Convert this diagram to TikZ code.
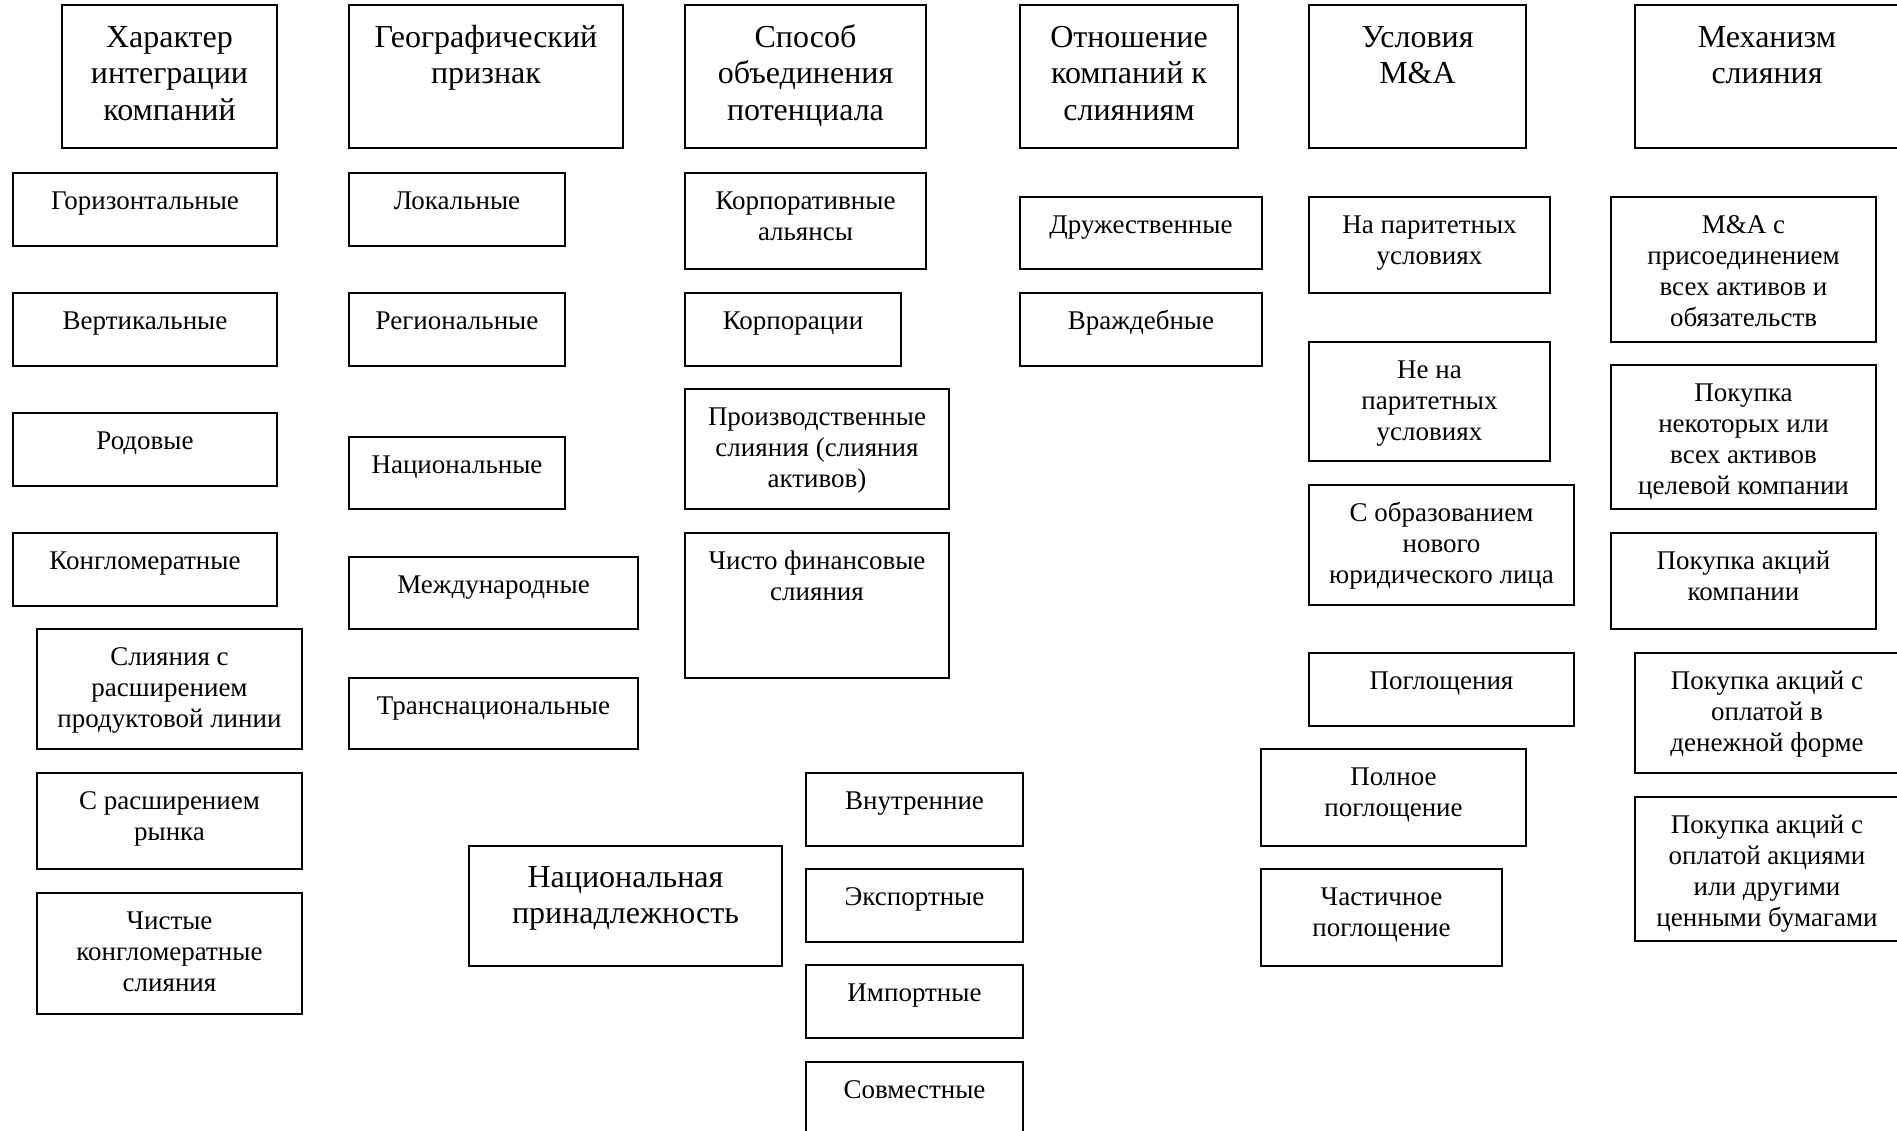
\documentclass[tikz,border=0pt]{standalone}
\usepackage{fontspec}
\setmainfont{Liberation Serif}
\newcommand{\ufst}{\rule{0pt}{30pt}}
\newcommand{\ubox}[7]{%
  \node[ubx, minimum width={(#4-#2)*1pt}, minimum height={(#5-#3)*1pt}] (#1) at ({(#2+#4)/2},{(#3+#5)/2}) {};
  \node[#6] (#1t) at (#1.north) {\ufst #7};
}
\tikzset{
  ubx/.style={draw=black, line width=1.8pt, inner sep=0pt, outer sep=0pt, rectangle},
  bodytxt/.style={anchor=north, inner sep=0pt, align=center, yshift=-6.5pt,
    font=\fontsize{27}{31}\selectfont},
  headtxt/.style={anchor=north, inner sep=0pt, align=center, yshift=-12pt,
    font=\fontsize{32}{36.5}\selectfont},
  headtxtb/.style={anchor=north, inner sep=0pt, align=center, yshift=-11pt,
    font=\fontsize{32}{36.5}\selectfont},
}
\begin{document}
\begin{tikzpicture}[x=1pt,y=-1pt]
\useasboundingbox (0,0) rectangle (1897,1130);
\fill[white] (0,0) rectangle (1897,1130);
\clip (0,0) rectangle (1897,1130);
% column 1
\ubox{c1h}{62}{5}{277}{148}{headtxt}{Характер\\интеграции\\компаний}
\ubox{c1a}{13}{173}{277}{246}{bodytxt}{Горизонтальные}
\ubox{c1b}{13}{293}{277}{366}{bodytxt}{Вертикальные}
\ubox{c1c}{13}{413}{277}{486}{bodytxt}{Родовые}
\ubox{c1d}{13}{533}{277}{606}{bodytxt}{Конгломератные}
\ubox{c1e}{37}{629}{302}{749}{bodytxt}{Слияния с\\расширением\\продуктовой линии}
\ubox{c1f}{37}{773}{302}{869}{bodytxt}{С расширением\\рынка}
\ubox{c1g}{37}{893}{302}{1014}{bodytxt}{Чистые\\конгломератные\\слияния}
% column 2
\ubox{c2h}{349}{5}{623}{148}{headtxt}{Географический\\признак}
\ubox{c2a}{349}{173}{565}{246}{bodytxt}{Локальные}
\ubox{c2b}{349}{293}{565}{366}{bodytxt}{Региональные}
\ubox{c2c}{349}{437}{565}{509}{bodytxt}{Национальные}
\ubox{c2d}{349}{557}{638}{629}{bodytxt}{Международные}
\ubox{c2e}{349}{678}{638}{749}{bodytxt}{Транснациональные}
\ubox{c2f}{469}{846}{782}{966}{headtxtb}{Национальная\\принадлежность}
% column 3
\ubox{c3h}{685}{5}{926}{148}{headtxt}{Способ\\объединения\\потенциала}
\ubox{c3a}{685}{173}{926}{269}{bodytxt}{Корпоративные\\альянсы}
\ubox{c3b}{685}{293}{901}{366}{bodytxt}{Корпорации}
\ubox{c3c}{685}{389}{949}{509}{bodytxt}{Производственные\\слияния (слияния\\активов)}
\ubox{c3d}{685}{533}{949}{678}{bodytxt}{Чисто финансовые\\слияния}
\ubox{c3e}{806}{773}{1023}{846}{bodytxt}{Внутренние}
\ubox{c3f}{806}{869}{1023}{942}{bodytxt}{Экспортные}
\ubox{c3g}{806}{965}{1023}{1038}{bodytxt}{Импортные}
\ubox{c3i}{806}{1062}{1023}{1140}{bodytxt}{Совместные}
% column 4
\ubox{c4h}{1020}{5}{1238}{148}{headtxt}{Отношение\\компаний к\\слияниям}
\ubox{c4a}{1020}{197}{1262}{269}{bodytxt}{Дружественные}
\ubox{c4b}{1020}{293}{1262}{366}{bodytxt}{Враждебные}
% column 5
\ubox{c5h}{1309}{5}{1526}{148}{headtxt}{Условия\\M\&A}
\ubox{c5a}{1309}{197}{1550}{293}{bodytxt}{На паритетных\\условиях}
\ubox{c5b}{1309}{342}{1550}{461}{bodytxt}{Не на\\паритетных\\условиях}
\ubox{c5c}{1309}{485}{1574}{605}{bodytxt}{С образованием\\нового\\юридического лица}
\ubox{c5d}{1309}{653}{1574}{726}{bodytxt}{Поглощения}
\ubox{c5e}{1261}{749}{1526}{846}{bodytxt}{Полное\\поглощение}
\ubox{c5f}{1261}{869}{1502}{966}{bodytxt}{Частичное\\поглощение}
% column 6
\ubox{c6h}{1635}{5}{1899}{148}{headtxt}{Механизм\\слияния}
\ubox{c6a}{1611}{197}{1876}{342}{bodytxt}{M\&A с\\присоединением\\всех активов и\\обязательств}
\ubox{c6b}{1611}{365}{1876}{509}{bodytxt}{Покупка\\некоторых или\\всех активов\\целевой компании}
\ubox{c6c}{1611}{533}{1876}{629}{bodytxt}{Покупка акций\\компании}
\ubox{c6d}{1635}{653}{1899}{773}{bodytxt}{Покупка акций с\\оплатой в\\денежной форме}
\ubox{c6e}{1635}{797}{1899}{941}{bodytxt}{Покупка акций с\\оплатой акциями\\или другими\\ценными бумагами}
\end{tikzpicture}
\end{document}
